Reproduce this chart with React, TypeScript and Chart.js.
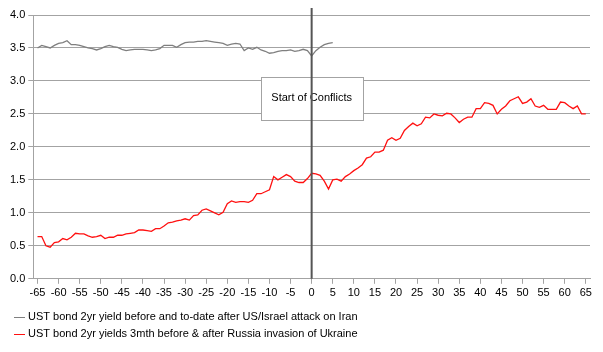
import React, { useEffect, useRef } from "react";
import { Chart, registerables } from "chart.js";

Chart.register(...registerables);

// Days relative to the start of the conflict (x axis)
const FIRST_DAY = -65;

// UST 2yr yields around Russia's invasion of Ukraine (days -65 .. 65)
const RUSSIA_YIELDS = [
  0.64, 0.64, 0.5, 0.48, 0.55, 0.56, 0.61, 0.59, 0.63, 0.69,
  0.68, 0.68, 0.65, 0.63, 0.64, 0.66, 0.61, 0.63, 0.63, 0.66,
  0.66, 0.68, 0.69, 0.7, 0.74, 0.74, 0.73, 0.72, 0.76, 0.76,
  0.8, 0.85, 0.86, 0.88, 0.89, 0.91, 0.89, 0.96, 0.97, 1.04,
  1.06, 1.03, 1.0, 0.97, 1.01, 1.14, 1.18, 1.16, 1.17, 1.17,
  1.16, 1.19, 1.29, 1.29, 1.32, 1.35, 1.55, 1.5, 1.54, 1.58,
  1.55, 1.48, 1.46, 1.46, 1.52, 1.6, 1.59, 1.57, 1.48, 1.36,
  1.5, 1.51, 1.48, 1.55, 1.59, 1.64, 1.68, 1.73, 1.83, 1.85,
  1.92, 1.92, 1.95, 2.1, 2.14, 2.1, 2.13, 2.25, 2.31, 2.36,
  2.32, 2.35, 2.45, 2.44, 2.5, 2.48, 2.47, 2.51, 2.5, 2.44,
  2.37, 2.42, 2.45, 2.45, 2.58, 2.58, 2.67, 2.66, 2.63, 2.5,
  2.57, 2.62, 2.7, 2.73, 2.76, 2.66, 2.68, 2.73, 2.62, 2.6,
  2.63, 2.57, 2.57, 2.57, 2.68, 2.67, 2.62, 2.58, 2.62, 2.5,
  2.5,
];

// UST 2yr yields around the US/Israel attack on Iran (days -65 .. 5)
const IRAN_YIELDS = [
  3.5, 3.54, 3.52, 3.5, 3.54, 3.57, 3.58, 3.61, 3.55, 3.55,
  3.54, 3.52, 3.5, 3.49, 3.47, 3.49, 3.52, 3.54, 3.52, 3.51,
  3.48, 3.46, 3.47, 3.48, 3.48, 3.48, 3.47, 3.46, 3.47, 3.49,
  3.54, 3.54, 3.54, 3.51, 3.55, 3.58, 3.59, 3.59, 3.6, 3.6,
  3.61, 3.6, 3.59, 3.58, 3.57, 3.54, 3.56, 3.57, 3.56, 3.46,
  3.5, 3.48, 3.51, 3.47, 3.45, 3.42, 3.43, 3.45, 3.46, 3.46,
  3.47, 3.45, 3.46, 3.48, 3.46, 3.38, 3.46, 3.51, 3.55, 3.57,
  3.58,
];

const X_TICKS = [-65, -60, -55, -50, -45, -40, -35, -30, -25, -20, -15, -10, -5, 0, 5, 10, 15, 20, 25, 30, 35, 40, 45, 50, 55, 60, 65];
const Y_TICKS = [0, 0.5, 1, 1.5, 2, 2.5, 3, 3.5, 4];

const IRAN_LABEL = "UST bond 2yr yield before and to-date after US/Israel attack on Iran";
const RUSSIA_LABEL = "UST bond 2yr yields 3mth before & after Russia invasion of Ukraine";

const EVENT_DAY = 0;
const EVENT_LABEL = "Start of Conflicts";
const EVENT_BOX = { xMin: -12.1, xMax: 12.1, yMin: 2.41, yMax: 3.06 };

const FONT = "'Liberation Sans', Arial, sans-serif";
const GRID = "#a3a3a3";
const IRAN_COLOR = "#7f7f7f";
const RUSSIA_COLOR = "#ff1010";

const toPoints = (vals: number[]) => vals.map((y, i) => ({ x: FIRST_DAY + i, y }));

const annotationPlugin = {
  id: "eventMarker",
  afterDatasetsDraw(chart: any) {
    const { ctx, chartArea, scales } = chart;
    const xs = scales.x;
    const ys = scales.y;
    ctx.save();
    const l = xs.getPixelForValue(EVENT_BOX.xMin);
    const r = xs.getPixelForValue(EVENT_BOX.xMax);
    const t = ys.getPixelForValue(EVENT_BOX.yMax);
    const b = ys.getPixelForValue(EVENT_BOX.yMin);
    ctx.fillStyle = "#ffffff";
    ctx.fillRect(Math.round(l), Math.round(t), Math.round(r - l), Math.round(b - t));
    ctx.strokeStyle = GRID;
    ctx.lineWidth = 1;
    ctx.strokeRect(Math.round(l) + 0.5, Math.round(t) + 0.5, Math.round(r - l), Math.round(b - t));
    ctx.fillStyle = "#000000";
    ctx.font = `11px ${FONT}`;
    ctx.textAlign = "center";
    ctx.textBaseline = "middle";
    ctx.fillText(EVENT_LABEL, (l + r) / 2, (t + b) / 2);
    const x0 = xs.getPixelForValue(EVENT_DAY);
    ctx.strokeStyle = "#555555";
    ctx.lineWidth = 2;
    ctx.beginPath();
    ctx.moveTo(x0, chartArea.top - 7);
    ctx.lineTo(x0, chartArea.bottom);
    ctx.stroke();
    ctx.restore();
  },
};

const legendPlugin = {
  id: "customLegend",
  afterDraw(chart: any) {
    const { ctx } = chart;
    const items = [
      { label: IRAN_LABEL, color: IRAN_COLOR },
      { label: RUSSIA_LABEL, color: RUSSIA_COLOR },
    ];
    ctx.save();
    ctx.font = `11px ${FONT}`;
    ctx.textBaseline = "middle";
    ctx.textAlign = "left";
    items.forEach((it, i) => {
      const y = chart.chartArea.bottom + 38 + i * 17;
      ctx.strokeStyle = it.color;
      ctx.lineWidth = 1;
      ctx.beginPath();
      ctx.moveTo(14, Math.round(y) + 0.5);
      ctx.lineTo(25, Math.round(y) + 0.5);
      ctx.stroke();
      ctx.fillStyle = "#000000";
      ctx.fillText(it.label, 28, y + 0.5);
    });
    ctx.restore();
  },
};

export default function App() {
  const ref = useRef<HTMLCanvasElement | null>(null);

  useEffect(() => {
    if (!ref.current) return;
    const chart = new Chart(ref.current, {
      type: "line",
      data: {
        datasets: [
          {
            label: IRAN_LABEL,
            data: toPoints(IRAN_YIELDS),
            borderColor: IRAN_COLOR,
            borderWidth: 1.3,
            pointRadius: 0,
            tension: 0,
          },
          {
            label: RUSSIA_LABEL,
            data: toPoints(RUSSIA_YIELDS),
            borderColor: RUSSIA_COLOR,
            borderWidth: 1.3,
            pointRadius: 0,
            tension: 0,
          },
        ],
      },
      options: {
        responsive: false,
        animation: false,
        layout: { padding: { left: 7, right: 13, top: 15, bottom: 49 } },
        plugins: { legend: { display: false }, tooltip: { enabled: false } },
        scales: {
          x: {
            type: "linear",
            min: -66,
            max: 66,
            afterBuildTicks: (axis: any) => {
              axis.ticks = X_TICKS.map((v) => ({ value: v }));
            },
            grid: { drawOnChartArea: false, drawTicks: true, tickLength: 5, color: GRID },
            border: { display: true, color: GRID },
            ticks: {
              autoSkip: false,
              maxRotation: 0,
              padding: 3,
              color: "#000000",
              font: { family: FONT, size: 11 },
              callback: (v: any) => String(v),
            },
          },
          y: {
            min: 0,
            max: 4,
            afterBuildTicks: (axis: any) => {
              axis.ticks = Y_TICKS.map((v) => ({ value: v }));
            },
            grid: { color: GRID, tickLength: 5 },
            border: { display: true, color: GRID },
            ticks: {
              padding: 3,
              color: "#000000",
              font: { family: FONT, size: 11 },
              callback: (v: any) => Number(v).toFixed(1),
            },
          },
        },
      },
      plugins: [annotationPlugin, legendPlugin],
    });
    return () => chart.destroy();
  }, []);

  return (
    <div style={{ position: "absolute", left: 0, top: 0, width: 603, height: 352, background: "#fff" }}>
      <canvas ref={ref} width={603} height={352} style={{ width: 603, height: 352, display: "block" }} />
    </div>
  );
}
